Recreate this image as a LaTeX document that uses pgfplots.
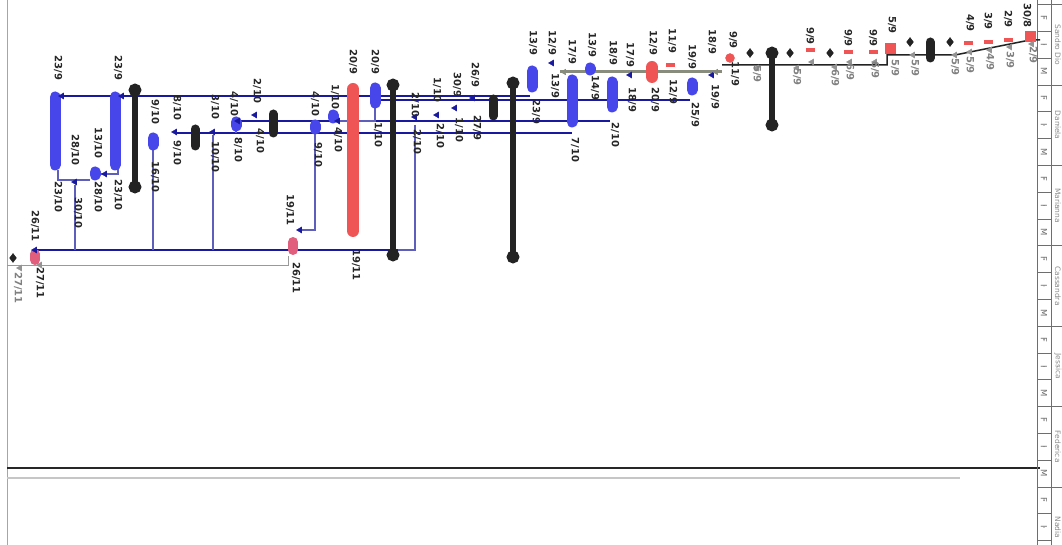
\documentclass[border=0pt]{standalone}
\usepackage{fontspec}
\setmainfont{DejaVu Sans}
\usepackage{pgfplots}
\usepackage{pgfplotstable}
\pgfplotsset{compat=1.18}

\definecolor{bbar}{RGB}{70,70,235}
\definecolor{bline}{RGB}{25,25,160}
\definecolor{rbar}{RGB}{240,85,85}
\definecolor{pbox}{RGB}{225,95,125}
\definecolor{kbar}{RGB}{35,35,35}
\definecolor{gline}{RGB}{135,140,125}
\definecolor{tabl}{RGB}{110,110,110}

% date labels, pixel positions of the rotated screenshot (x right, y down)
\pgfplotstableread{
x y t
58 68 23/9
58 197 23/10
118 68 23/9
118 195 23/10
98 143 13/10
98 197 28/10
75 150 28/10
78 213 30/10
155 112 9/10
155 177 16/10
177 108 8/10
177 153 9/10
215 107 3/10
215 157 10/10
234 104 4/10
238 150 8/10
257 91 2/10
260 141 4/10
315 104 4/10
318 155 9/10
335 97 1/10
338 140 4/10
353 62 20/9
356 265 19/11
375 62 20/9
378 135 1/10
290 210 19/11
296 278 26/11
35 226 26/11
40 283 27/11
415 105 2/10
417 142 2/10
437 90 1/10
440 136 2/10
457 85 30/9
459 130 1/10
475 75 26/9
477 128 27/9
533 43 13/9
536 112 23/9
552 43 12/9
555 86 13/9
572 52 17/9
575 150 7/10
592 45 13/9
595 88 14/9
613 53 18/9
615 135 2/10
630 55 17/9
632 100 18/9
653 43 12/9
655 100 20/9
672 41 11/9
673 92 12/9
692 57 19/9
695 115 25/9
712 42 18/9
715 97 19/9
733 40 9/9
735 74 11/9
810 36 9/9
848 38 9/9
873 38 9/9
892 25 5/9
970 23 4/9
988 21 3/9
1008 19 2/9
1027 15.5 30/8
}\lblk

\pgfplotstableread{
x y t
18 288 27/11
757 74 5/9
797 77 5/9
835 78 6/9
850 72 6/9
875 70 6/9
895 68 5/9
915 68 5/9
955 67 5/9
970 65 5/9
990 62 4/9
1010 60 3/9
1033 55 2/9
}\lblg

\pgfplotstableread{
x y t
1044 18 F
1044 44.8 I
1044 71.6 M
1044 98.4 F
1044 125.2 I
1044 152 M
1044 178.8 F
1044 205.6 I
1044 232.4 M
1044 259.2 F
1044 286 I
1044 312.8 M
1044 339.6 F
1044 366.4 I
1044 393.2 M
1044 420 F
1044 446.8 I
1044 473.6 M
1044 500.4 F
1044 527.2 I
}\cells

\pgfplotstableread{
x y t
1058 44.8 {Sandro Dio}
1058 125.2 Daniela
1058 205.6 Marianna
1058 286 Cassandra
1058 366.4 Jessica
1058 446.8 Federica
1058 527.2 Nadia
}\names

\pgfplotsset{
  lbl/.style 2 args={only marks, mark=*, mark size=0.1pt,
    mark options={draw=none, fill=none},
    point meta=explicit symbolic, nodes near coords,
    nodes near coords style={rotate=-90, anchor=center, inner sep=0pt,
      font=#2, text=#1}},
}

\begin{document}
\begin{tikzpicture}
\begin{axis}[
  name=ax,
  x=1bp, y=1bp, y dir=reverse,
  xmin=0, xmax=1062, ymin=0, ymax=545,
  hide axis,
  unbounded coords=jump,
]
% frame lines
\addplot[gray!70, line width=1bp] coordinates {(7,0) (7,545)};
\addplot[black!85, line width=2bp] coordinates {(7,468) (1040,468)};
\addplot[gray!45, line width=1.3bp] coordinates {(7,478) (960,478)};
\addplot[gray!80, line width=0.8bp] coordinates {(7,265) (288,265) (288,256)};

% table on the right
\addplot[tabl, line width=0.7bp] coordinates {(1037,0) (1037,545) (nan,nan) (1051,0) (1051,545)};
\addplot[tabl, line width=0.7bp] coordinates {
  (1037,4.6) (1051,4.6) (nan,nan) (1037,31.4) (1051,31.4) (nan,nan)
  (1037,58.2) (1051,58.2) (nan,nan) (1037,85) (1051,85) (nan,nan)
  (1037,111.8) (1051,111.8) (nan,nan) (1037,138.6) (1051,138.6) (nan,nan)
  (1037,165.4) (1051,165.4) (nan,nan) (1037,192.2) (1051,192.2) (nan,nan)
  (1037,219) (1051,219) (nan,nan) (1037,245.8) (1051,245.8) (nan,nan)
  (1037,272.6) (1051,272.6) (nan,nan) (1037,299.4) (1051,299.4) (nan,nan)
  (1037,326.2) (1051,326.2) (nan,nan) (1037,353) (1051,353) (nan,nan)
  (1037,379.8) (1051,379.8) (nan,nan) (1037,406.6) (1051,406.6) (nan,nan)
  (1037,433.4) (1051,433.4) (nan,nan) (1037,460.2) (1051,460.2) (nan,nan)
  (1037,487) (1051,487) (nan,nan) (1037,513.8) (1051,513.8) (nan,nan)
  (1037,540.6) (1051,540.6)};
\addplot[tabl, line width=0.7bp] coordinates {
  (1051,4.6) (1062,4.6) (nan,nan) (1051,85) (1062,85) (nan,nan)
  (1051,165.4) (1062,165.4) (nan,nan) (1051,245.8) (1062,245.8) (nan,nan)
  (1051,326.2) (1062,326.2) (nan,nan) (1051,406.6) (1062,406.6) (nan,nan)
  (1051,487) (1062,487)};

% dependency lines
\addplot[bline, line width=1.4bp] coordinates {
  (55,96) (530,96) (nan,nan)
  (375,100) (690,100) (nan,nan)
  (240,121) (610,121) (nan,nan)
  (175,133) (572,133) (nan,nan)
  (33,250) (398,250)};
\addplot[bline!70, line width=1.1bp] coordinates {
  (75,185) (75,250) (nan,nan)
  (153,150) (153,250) (nan,nan)
  (213,135) (213,250) (nan,nan)
  (415,125) (415,250) (398,250) (nan,nan)
  (315,132) (315,230) (298,230) (nan,nan)
  (58,170) (58,180) (90,180) (nan,nan)
  (118,168) (118,174) (100,174) (nan,nan)
  (236,128) (236,133) (nan,nan)
  (333,119) (333,121) (nan,nan)
  (375,104) (375,121) (340,121)};
\addplot[gline, line width=3bp] coordinates {(560,72) (722,72)};
\addplot[kbar, line width=1.5bp] coordinates {
  (722,65) (887,65) (887,55) (955,55) (1030,40) (1040,40)};

% bars
\addplot[bbar, line width=11bp, line cap=round] coordinates {
  (55,97) (55,165) (nan,nan)
  (115,97) (115,165) (nan,nan)
  (95,172) (95,175) (nan,nan)
  (153,138) (153,145) (nan,nan)
  (236,122) (236,126) (nan,nan)
  (333,115) (333,118) (nan,nan)
  (315,125) (315,129) (nan,nan)
  (375,88) (375,103) (nan,nan)
  (532,71) (532,87) (nan,nan)
  (572,80) (572,122) (nan,nan)
  (590,68) (590,70) (nan,nan)
  (612,82) (612,107) (nan,nan)
  (692,83) (692,90)};
\addplot[rbar, line width=12bp, line cap=round] coordinates {
  (353,89) (353,231) (nan,nan) (652,67) (652,77)};
\addplot[pbox, line width=10bp, line cap=round] coordinates {
  (293,242) (293,250) (nan,nan) (35,254) (35,260)};
\addplot[kbar, line width=6.5bp, line cap=round, mark=*, mark size=3bp] coordinates {
  (135,90) (135,187) (nan,nan)
  (393,85) (393,255) (nan,nan)
  (513,83) (513,257) (nan,nan)
  (772,53) (772,125)};
\addplot[kbar, line width=9bp, line cap=round] coordinates {
  (195,129) (195,146) (nan,nan)
  (273,114) (273,133) (nan,nan)
  (493,99) (493,116) (nan,nan)
  (930,42) (930,58)};

% milestones and markers
\addplot[only marks, mark=diamond*, mark size=4.5bp, kbar] coordinates {
  (750,53) (790,53) (830,53) (910,42) (950,42) (13,258)};
\addplot[only marks, mark=square*, mark size=5bp, rbar] coordinates {
  (890,48) (1030,36)};
\addplot[only marks, mark=*, mark size=4.5bp, rbar] coordinates {(730,58)};
\addplot[only marks, mark=square*, mark size=2.5bp, rbar,
  mark options={xscale=1.6, yscale=0.6}] coordinates {
  (810,50) (848,52) (873,52) (968,43) (988,42) (1008,40) (670,65)};
\addplot[only marks, mark=triangle*, mark size=3.5bp, gray!85,
  mark options={rotate=-30}] coordinates {
  (757,68) (797,68) (812,62) (835,67) (850,62) (875,62) (913,55) (955,55)
  (970,52) (990,50) (1010,47) (1032,44) (20,268) (40,265)};
\addplot[only marks, mark=triangle*, mark size=3.5bp, bline,
  mark options={rotate=90}] coordinates {
  (75,182) (175,132) (213,132) (255,115) (437,115) (455,108) (473,98)
  (415,117) (552,63) (630,75) (712,75) (35,250) (300,230) (105,174)
  (62,96) (122,96) (238,121) (338,121)};
\addplot[only marks, mark=triangle*, mark size=3.2bp, gline,
  mark options={rotate=90}] coordinates {(564,72) (716,72)};

% labels
\addplot[lbl={black!85}{\bfseries\fontsize{10}{10}\selectfont}] table[x=x, y=y, meta=t] {\lblk};
\addplot[lbl={gray}{\bfseries\fontsize{10}{10}\selectfont}] table[x=x, y=y, meta=t] {\lblg};
\addplot[lbl={tabl}{\fontsize{8.5}{8.5}\selectfont}] table[x=x, y=y, meta=t] {\cells};
\addplot[lbl={tabl!80}{\fontsize{7.5}{7.5}\selectfont}] table[x=x, y=y, meta=t] {\names};
\end{axis}
\pgfresetboundingbox
\path[use as bounding box] (ax.south west) rectangle (ax.north east);
\end{tikzpicture}
\end{document}
